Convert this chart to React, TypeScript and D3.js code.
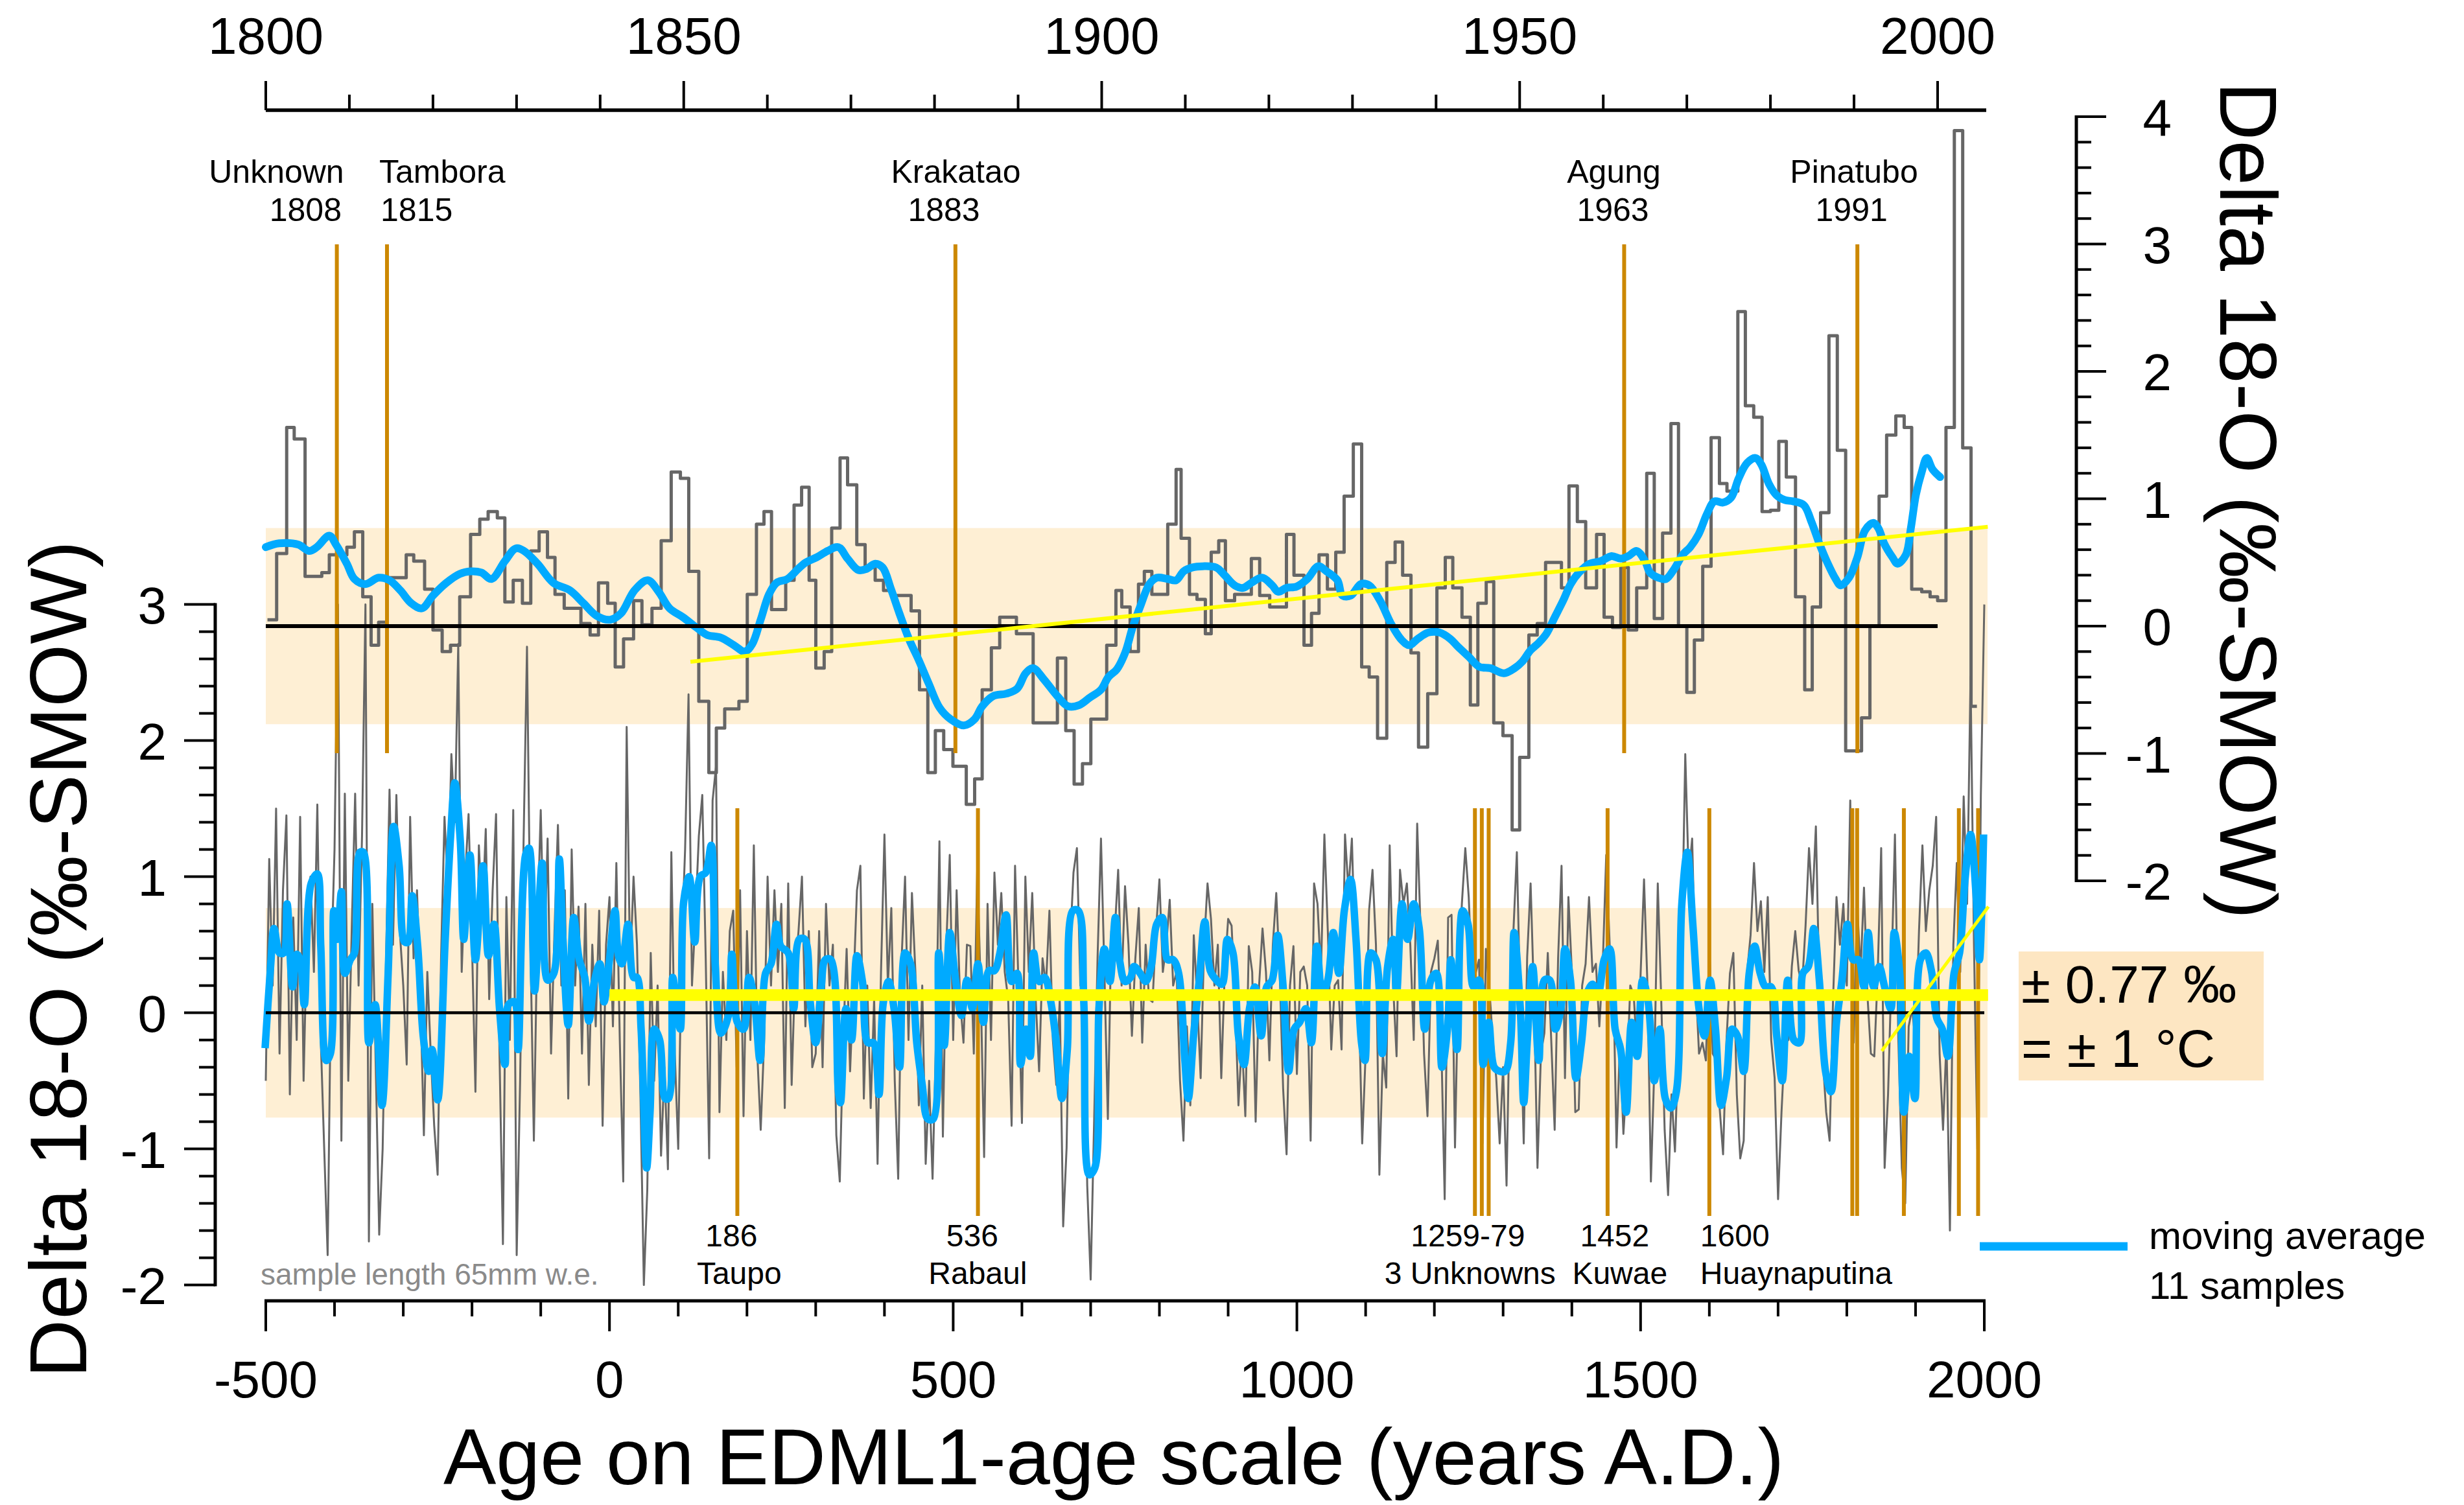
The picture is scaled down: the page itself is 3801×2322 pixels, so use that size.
import React, { useEffect } from "react";
import * as d3 from "d3";

// ---------------- DATA ----------------
// Upper panel (top axis: years A.D. 1800-2005, right axis: delta 18-O)
const upperSteps: [number, number][] = [
[1800.2,0.05],[1801.3,0.57],[1802.5,1.56],[1803.4,1.47],[1804.7,0.39],[1806.7,0.42],[1807.6,0.56],[1809.7,0.62],[1810.6,0.74],[1811.6,0.23],[1812.6,-0.15],[1813.5,0.03],[1814.5,0.38],[1816.8,0.56],[1817.7,0.51],[1819.0,0.29],[1820.0,-0.03],[1821.1,-0.2],[1822.1,-0.15],[1823.2,0.23],[1824.5,0.72],[1825.6,0.84],[1826.6,0.9],[1827.7,0.85],[1828.6,0.19],[1829.6,0.36],[1830.7,0.18],[1831.7,0.59],[1832.7,0.74],[1833.7,0.54],[1834.6,0.25],[1835.7,0.14],[1837.7,0.02],[1838.8,-0.07],[1839.8,0.34],[1840.9,0.18],[1841.8,-0.32],[1842.8,-0.1],[1844.0,0.2],[1845.0,0.01],[1846.2,0.14],[1847.3,0.67],[1848.5,1.21],[1849.6,1.16],[1850.6,0.43],[1851.8,-0.59],[1853.0,-1.15],[1853.9,-0.8],[1854.9,-0.65],[1856.6,-0.59],[1857.6,0.25],[1858.7,0.8],[1859.6,0.9],[1860.5,0.13],[1862.2,0.36],[1863.2,0.95],[1864.1,1.09],[1865.0,0.36],[1865.8,-0.33],[1866.8,-0.2],[1867.7,0.77],[1868.7,1.32],[1869.6,1.11],[1870.7,0.64],[1871.7,0.46],[1872.9,0.36],[1873.9,0.28],[1874.9,0.24],[1877.2,0.12],[1878.2,-0.5],[1879.2,-1.15],[1880.1,-0.82],[1881.1,-0.97],[1882.2,-1.1],[1883.8,-1.4],[1884.8,-1.2],[1885.7,-0.5],[1886.8,-0.17],[1887.8,0.07],[1889.8,-0.06],[1891.8,-0.76],[1894.7,-0.25],[1895.7,-0.82],[1896.7,-1.24],[1897.7,-1.08],[1898.7,-0.73],[1900.6,-0.15],[1901.7,0.28],[1902.4,0.15],[1903.4,-0.2],[1904.4,0.33],[1905.1,0.43],[1906.0,0.25],[1907.9,0.8],[1908.9,1.23],[1909.5,0.69],[1910.5,0.25],[1911.4,0.21],[1912.4,-0.06],[1913.1,0.58],[1914.0,0.67],[1914.8,0.2],[1915.9,0.25],[1917.9,0.53],[1918.9,0.24],[1920.1,0.15],[1922.1,0.72],[1923.0,0.4],[1924.2,-0.15],[1925.1,0.1],[1926.0,0.56],[1927.0,0.29],[1928.0,0.58],[1929.0,1.02],[1930.1,1.43],[1931.1,-0.32],[1932.0,-0.4],[1933.0,-0.88],[1934.1,0.5],[1935.1,0.66],[1936.0,0.4],[1937.0,-0.21],[1937.9,-0.95],[1939.0,-0.53],[1940.1,0.3],[1941.1,0.54],[1942.0,0.3],[1943.1,0.07],[1944.1,-0.62],[1945.0,0.18],[1946.0,0.35],[1946.9,-0.76],[1948.0,-0.86],[1949.1,-1.6],[1950.0,-1.03],[1951.1,-0.07],[1952.1,0.02],[1953.1,0.5],[1955.0,0.3],[1955.9,1.1],[1956.9,0.82],[1957.9,0.3],[1959.2,0.72],[1960.1,0.07],[1961.1,-0.01],[1962.1,0.46],[1963.0,-0.03],[1964.0,0.3],[1965.2,1.2],[1966.1,0.06],[1967.1,0.73],[1968.1,1.59],[1969.0,0.0],[1970.0,-0.52],[1970.9,-0.11],[1971.9,0.47],[1972.9,1.48],[1973.9,1.12],[1974.8,1.06],[1976.1,2.47],[1977.0,1.73],[1978.0,1.64],[1979.0,0.9],[1980.0,0.91],[1981.0,1.45],[1981.9,1.17],[1983.0,0.23],[1984.1,-0.5],[1985.0,0.15],[1986.0,0.89],[1987.0,2.28],[1988.0,1.38],[1989.0,-0.98],[1990.9,-0.72],[1991.9,0.0],[1993.0,1.02],[1993.9,1.5],[1995.0,1.65],[1996.0,1.56],[1996.9,0.29],[1998.1,0.27],[1999.1,0.23],[2000.0,0.2],[2001.0,1.56],[2002.0,3.89],[2003.0,1.4],[2004.0,-0.63],[2004.7,-0.63]
];

const upperAvg: [number, number][] = [
[1800.0,0.62],[1801.6,0.65],[1803.9,0.64],[1805.2,0.59],[1806.1,0.62],[1807.6,0.71],[1808.4,0.64],[1809.7,0.49],[1810.6,0.37],[1811.9,0.33],[1813.5,0.38],[1814.8,0.36],[1816.1,0.28],[1817.4,0.18],[1818.7,0.14],[1820.0,0.24],[1821.6,0.34],[1823.2,0.41],[1824.5,0.43],[1825.8,0.42],[1827.0,0.37],[1828.6,0.51],[1829.9,0.61],[1830.9,0.59],[1832.5,0.49],[1834.4,0.34],[1836.4,0.28],[1838.0,0.18],[1839.6,0.08],[1841.2,0.05],[1842.5,0.1],[1844.1,0.28],[1845.7,0.36],[1847.0,0.27],[1848.3,0.14],[1849.9,0.07],[1851.5,-0.01],[1852.8,-0.07],[1854.4,-0.09],[1856.0,-0.15],[1857.3,-0.2],[1858.2,-0.14],[1859.2,0.05],[1860.2,0.25],[1861.1,0.34],[1862.4,0.37],[1863.7,0.45],[1864.6,0.5],[1865.9,0.54],[1867.2,0.59],[1868.5,0.62],[1869.6,0.53],[1870.9,0.44],[1871.9,0.45],[1872.9,0.49],[1873.8,0.46],[1874.8,0.29],[1875.8,0.1],[1877.0,-0.11],[1878.0,-0.25],[1879.3,-0.45],[1880.6,-0.64],[1881.9,-0.73],[1883.5,-0.78],[1884.8,-0.73],[1885.7,-0.63],[1887.0,-0.55],[1888.6,-0.53],[1889.9,-0.49],[1890.9,-0.37],[1891.8,-0.33],[1893.1,-0.42],[1894.7,-0.55],[1896.0,-0.63],[1897.3,-0.62],[1898.6,-0.56],[1899.9,-0.5],[1900.8,-0.4],[1901.8,-0.34],[1902.8,-0.21],[1903.7,-0.01],[1904.7,0.17],[1905.7,0.33],[1906.6,0.38],[1907.9,0.37],[1908.9,0.36],[1909.8,0.43],[1910.8,0.46],[1912.1,0.47],[1913.7,0.46],[1914.7,0.4],[1915.9,0.32],[1916.9,0.3],[1917.9,0.34],[1919.2,0.38],[1920.4,0.32],[1921.1,0.27],[1922.1,0.3],[1923.3,0.31],[1924.6,0.37],[1925.9,0.47],[1926.9,0.43],[1928.2,0.36],[1928.8,0.24],[1929.8,0.24],[1931.0,0.33],[1932.0,0.32],[1933.3,0.2],[1934.6,0.02],[1935.9,-0.11],[1936.8,-0.15],[1937.8,-0.1],[1939.1,-0.05],[1940.4,-0.05],[1941.7,-0.1],[1942.6,-0.16],[1943.9,-0.24],[1945.2,-0.32],[1946.5,-0.33],[1948.1,-0.37],[1949.4,-0.33],[1950.3,-0.28],[1951.3,-0.19],[1952.3,-0.13],[1953.2,-0.06],[1954.2,0.07],[1955.2,0.2],[1956.1,0.33],[1957.1,0.42],[1958.4,0.49],[1959.7,0.51],[1961.0,0.55],[1962.1,0.53],[1963.0,0.55],[1964.0,0.59],[1965.0,0.51],[1965.6,0.42],[1966.6,0.38],[1967.5,0.37],[1968.5,0.45],[1969.5,0.56],[1970.4,0.62],[1971.4,0.72],[1972.4,0.88],[1973.3,0.98],[1974.3,0.97],[1975.3,1.01],[1976.2,1.16],[1977.2,1.28],[1978.2,1.32],[1978.9,1.27],[1979.8,1.12],[1980.7,1.03],[1981.7,0.99],[1982.7,0.98],[1984.0,0.95],[1984.9,0.82],[1985.9,0.64],[1986.8,0.5],[1987.8,0.37],[1988.4,0.32],[1989.4,0.38],[1990.4,0.54],[1991.3,0.75],[1992.3,0.81],[1992.9,0.77],[1993.6,0.65],[1994.6,0.54],[1995.2,0.49],[1996.2,0.56],[1996.8,0.77],[1997.4,1.03],[1998.1,1.21],[1998.7,1.32],[1999.4,1.23],[2000.3,1.17]
];

// Lower panel raw samples, one value every 5 years from -500 A.D.
const lowerStartYear = -500;
const lowerStepYears = 5;
const lowerRaw: number[] = [
-0.5,1.13,0.2,1.5,-0.3,0.9,1.45,-0.6,0.7,-0.2,1.44,-0.5,0.6,1.0,0.3,1.53,-0.2,-1.0,-1.78,0.3,
1.2,3.0,-0.94,1.61,-0.5,0.6,1.61,0.2,1.3,3.0,-1.68,0.8,-0.4,-1.63,-1.0,0.4,1.64,0.5,1.6,0.6,
0.2,-0.38,1.44,0.4,0.9,0.1,-0.9,0.3,-0.3,-0.83,-1.19,0.4,1.44,0.9,1.9,1.4,2.71,0.3,1.0,1.46,
0.5,-0.58,1.23,0.7,1.35,0.1,0.9,1.46,-0.3,-1.7,0.85,-0.2,1.49,-1.78,-0.5,1.25,2.69,0.5,-0.94,0.6,
1.49,0.4,1.28,-0.3,0.6,1.38,0.2,0.9,-0.63,1.2,0.2,0.78,-0.3,0.8,-0.53,0.5,-0.1,0.75,-0.83,0.5,
0.85,-0.1,1.1,-0.2,-1.24,2.1,0.3,1.0,0.5,-0.6,-2.0,-1.3,0.44,-0.5,0.2,-1.05,-0.4,-1.15,1.18,-0.3,
-1.0,0.5,1.2,2.34,0.2,0.7,1.3,1.6,0.4,-1.07,1.56,1.81,-0.73,0.3,-0.2,0.6,0.75,-0.4,0.9,-0.76,
0.6,-0.2,1.23,-0.3,-0.86,-0.2,1.0,0.2,0.9,0.3,0.8,-0.7,0.95,-0.53,0.3,0.6,1.0,-0.1,0.6,-0.4,
-0.3,0.6,-0.4,0.8,0.2,0.5,-0.9,-1.24,-0.2,0.47,-0.43,0.2,0.9,1.08,-0.63,0.2,-0.7,0.1,-1.11,0.3,
1.31,0.2,0.77,-0.5,-1.22,0.4,1.0,-0.2,0.88,0.3,-0.68,0.2,-1.11,-0.5,-1.22,-0.2,1.26,-0.91,0.5,1.16,
-0.2,0.9,0.1,-0.22,0.5,0.49,-0.3,1.05,0.2,-1.06,0.8,-0.2,1.03,0.5,0.88,0.3,0.1,-0.83,1.08,0.2,
-0.81,1.0,0.3,0.88,0.1,-0.43,0.4,0.2,0.75,-0.2,-0.53,0.1,-1.57,-0.99,0.5,1.03,1.21,0.2,0.3,-1.27,
-1.96,-0.8,0.4,1.28,0.3,-0.78,0.6,0.59,1.05,0.2,0.93,0.5,-0.17,0.4,0.77,-0.22,0.5,0.1,0.08,0.6,
0.98,0.3,0.5,0.83,0.2,0.3,-0.5,-0.94,-0.1,-0.68,0.57,0.1,-0.48,0.5,0.95,0.69,0.2,0.5,-0.48,0.3,
0.69,0.64,0.1,-0.68,-0.2,-0.76,0.49,0.3,-0.8,0.2,0.62,0.3,-0.35,0.5,0.88,0.3,-0.56,-1.04,0.2,0.49,
-0.45,0.3,0.34,0.2,-0.94,0.95,0.8,0.3,1.31,0.6,-0.27,0.2,0.24,-0.27,1.31,0.9,1.28,0.36,0.1,-0.96,
-0.3,0.75,1.05,0.5,-1.19,-0.3,-0.55,1.23,0.2,-0.32,1.05,0.8,0.95,0.5,-0.2,1.39,0.6,-0.3,-0.76,0.3,
0.4,0.53,-0.2,-1.37,0.7,0.72,-0.99,0.3,0.8,1.21,0.85,0.2,0.29,0.39,-0.96,0.47,0.18,-0.2,-0.48,-0.96,
-0.4,-1.27,0.16,0.6,1.18,0.03,-0.96,0.41,0.95,0.1,-1.14,-0.3,-0.15,0.44,-0.2,-0.86,0.4,1.08,-0.48,0.85,
0.3,-0.73,-0.71,0.2,0.36,0.85,0.3,0.36,-0.1,0.36,1.16,0.5,0.34,-0.99,-0.2,-0.89,-0.48,0.2,0.13,-0.3,
0.28,0.98,0.2,-1.24,-0.4,0.95,0.1,-0.86,-1.34,-0.6,-1.02,-0.22,0.5,1.9,1.0,1.28,0.24,-0.3,-0.22,-0.35,
0.49,-0.3,-0.35,-0.7,-1.04,-0.2,0.29,0.44,-0.6,-1.07,-0.94,0.3,0.57,1.1,0.6,0.82,0.3,0.85,-0.2,-0.48,
-1.37,-0.73,-0.22,-0.2,0.34,0.6,0.31,0.2,0.64,1.21,0.8,1.37,0.2,-0.33,-0.73,-0.94,0.1,0.85,0.5,0.8,
0.2,1.56,-0.22,0.8,0.3,0.92,0.13,-0.3,-0.32,0.3,1.21,-1.14,-0.6,0.3,1.31,-0.2,-1.14,-1.4,-0.1,0.03,
-0.22,0.6,1.23,0.6,0.9,1.08,1.44,-0.3,-0.86,-0.2,-1.6,0.5,1.1,0.3,1.59,0.8,2.47,0.5,-1.0,1.6,
3.0
];

const lowerAvg: [number, number][] = [
[-501,-0.26],[-493,0.34],[-488,0.62],[-480,0.44],[-474,0.44],[-469,0.8],[-461,0.19],[-455,0.43],[-450,0.39],[-444,0.06],[-434,0.95],[-425,1.02],[-420,0.49],[-412,-0.35],[-406,-0.3],[-401,0.75],[-396,0.54],[-390,0.89],[-385,0.29],[-377,0.39],[-371,0.44],[-363,1.18],[-358,1.18],[-350,-0.22],[-341,0.06],[-331,-0.68],[-322,0.29],[-314,1.37],[-306,1.08],[-298,0.52],[-293,0.52],[-287,0.86],[-279,0.49],[-271,-0.17],[-263,-0.43],[-258,-0.27],[-250,-0.64],[-239,0.54],[-231,1.31],[-225,1.69],[-217,1.26],[-212,0.54],[-203,1.16],[-195,0.39],[-184,1.08],[-176,0.42],[-168,0.65],[-160,0.03],[-152,-0.38],[-147,0.06],[-138,0.08],[-133,-0.27],[-122,1.16],[-117,1.21],[-109,0.16],[-98,1.1],[-90,0.24],[-81,0.29],[-73,1.13],[-68,0.57],[-60,-0.09],[-52,0.7],[-44,0.39],[-36,0.26],[-30,-0.06],[-22,0.23],[-14,0.36],[-8,0.08],[0,0.39],[8,0.75],[13,0.42],[18,0.36],[27,0.65],[35,0.26],[40,0.26],[46,-0.12],[54,-1.14],[59,-0.73],[65,-0.12],[73,-0.2],[81,-0.63],[86,-0.63],[92,0.26],[97,0.08],[103,-0.12],[108,0.82],[116,1.0],[124,0.52],[132,1.0],[140,1.03],[148,1.23],[154,0.34],[162,-0.15],[173,-0.02],[178,0.43],[186,-0.07],[195,-0.12],[203,0.26],[211,0.08],[219,-0.35],[227,0.29],[235,0.36],[243,0.65],[249,0.49],[260,0.44],[268,0.03],[276,0.54],[284,0.54],[292,0.08],[300,-0.22],[308,0.19],[314,0.39],[322,0.39],[333,-0.58],
[336,-0.66],[344,0.03],[352,-0.2],[360,0.42],[368,0.23],[376,-0.22],[384,-0.22],[392,-0.6],[398,0.06],[406,0.23],[414,0.03],[422,-0.4],[430,0.44],[438,0.36],[447,-0.22],[455,-0.53],[463,-0.78],[471,-0.78],[479,0.44],[487,-0.24],[495,0.59],[503,0.26],[512,-0.02],[520,0.24],[528,0.03],[536,0.36],[544,-0.07],[552,0.31],[560,0.31],[568,0.44],[577,0.72],[585,0.23],[593,0.29],[598,-0.38],[606,-0.12],[612,-0.32],[617,0.44],[625,0.23],[633,0.26],[642,0.08],[650,-0.22],[658,-0.63],[666,-0.27],[674,0.75],[682,0.75],[690,0.08],[698,-1.19],[706,-1.14],[712,0.03],[720,0.47],[728,0.23],[736,0.7],[742,0.39],[750,0.23],[758,0.26],[763,0.34],[772,0.29],[780,0.23],[788,0.34],[796,0.65],[804,0.7],[812,0.39],[820,0.39],[828,0.29],[837,-0.35],[842,-0.63],[850,-0.15],[858,0.24],[866,0.67],[874,0.31],[883,0.24],[891,0.21],[899,0.54],[907,0.44],[915,-0.17],[923,-0.38],[931,0.03],[939,0.19],[948,-0.17],[956,0.19],[964,0.24],[972,0.57],[980,0.19],[988,-0.43],[996,-0.12],[1004,-0.07],[1013,0.03],[1021,-0.22],[1029,0.49],[1037,0.14],[1045,0.24],[1053,0.59],[1061,0.29],[1069,0.75],[1078,0.98],[1086,0.54],[1094,-0.22],[1099,-0.35],[1107,0.44],[1115,0.39],[1124,-0.3],[1132,0.34],[1140,0.54],[1145,0.14],[1153,0.8],[1161,0.54],[1170,0.8],
[1178,0.62],[1186,-0.12],[1195,0.24],[1203,0.29],[1211,-0.4],[1219,-0.12],[1224,0.39],[1233,-0.27],[1241,0.75],[1249,0.65],[1257,0.19],[1265,0.24],[1271,-0.38],[1279,-0.07],[1287,-0.4],[1295,-0.43],[1303,-0.43],[1311,-0.22],[1316,0.59],[1325,0.03],[1330,-0.66],[1335,-0.22],[1343,0.34],[1352,-0.35],[1360,0.24],[1368,0.24],[1376,-0.12],[1384,0.03],[1390,0.47],[1398,0.24],[1406,-0.48],[1414,-0.22],[1422,0.14],[1430,0.21],[1438,0.14],[1447,0.39],[1455,0.47],[1463,-0.12],[1471,-0.27],[1479,-0.73],[1487,-0.07],[1495,-0.32],[1503,0.24],[1511,0.08],[1520,-0.5],[1528,-0.12],[1536,-0.63],[1544,-0.7],[1552,-0.58],[1560,0.8],[1568,1.18],[1576,0.65],[1585,0.03],[1593,-0.17],[1601,0.24],[1609,-0.12],[1617,-0.68],[1625,-0.48],[1633,-0.12],[1641,-0.17],[1650,-0.43],[1658,0.29],[1666,0.49],[1674,0.29],[1682,0.19],[1690,0.19],[1698,-0.17],[1706,-0.5],[1714,0.24],[1723,-0.2],[1731,-0.22],[1736,0.29],[1744,0.34],[1752,0.62],[1760,0.24],[1769,-0.43],[1777,-0.58],[1785,-0.07],[1793,0.24],[1801,0.65],[1809,0.39],[1817,0.39],[1825,0.19],[1831,0.59],[1839,0.19],[1847,0.34],[1855,0.19],[1864,0.03],[1869,0.59],[1877,0.29],[1883,-0.73],[1891,-0.32],[1899,-0.63],[1907,0.39],[1915,0.44],[1923,0.31],[1931,-0.04],[1939,-0.12],[1947,-0.32],[1956,0.29],[1964,0.44],[1972,0.98],[1980,1.31],[1988,0.87],[1993,0.39],[1999,1.31]
];

// Reference lines / bands
const band = 0.77;                       // +/- 0.77 permil = +/- 1 degC
const lowerMeanLevel = 0.13;             // thick yellow level from 0 A.D.
const lowerMeanSpan: [number, number] = [0, 2005.5];
const trendLine: [number, number][] = [[1850.8, -0.28], [2006, 0.78]];
const upperZeroSpan: [number, number] = [1800, 2000];
const lowerZeroSpan: [number, number] = [-500, 2000];

// Volcanic events
const upperEventLines = [1808.5, 1814.5, 1882.5, 1962.5, 1990.4];
const upperEventLabels = [
  { text: "Unknown", at: 1809.36, anchor: "end", row: 0 },
  { text: "1808", at: 1809.07, anchor: "end", row: 1 },
  { text: "Tambora", at: 1813.57, anchor: "start", row: 0 },
  { text: "1815", at: 1813.73, anchor: "start", row: 1 },
  { text: "Krakatao", at: 1882.55, anchor: "middle", row: 0 },
  { text: "1883", at: 1881.12, anchor: "middle", row: 1 },
  { text: "Agung", at: 1961.27, anchor: "middle", row: 0 },
  { text: "1963", at: 1961.15, anchor: "middle", row: 1 },
  { text: "Pinatubo", at: 1990.0, anchor: "middle", row: 0 },
  { text: "1991", at: 1989.7, anchor: "middle", row: 1 },
];
const lowerEventLines = [186, 536, 1259, 1269, 1279, 1452, 1600, 1808, 1815, 1883, 1963, 1991];
const lowerEventLabels = [
  { text: "186", at: 177.4, anchor: "middle", row: 0 },
  { text: "Taupo", at: 188.7, anchor: "middle", row: 1 },
  { text: "536", at: 527.8, anchor: "middle", row: 0 },
  { text: "Rabaul", at: 535.8, anchor: "middle", row: 1 },
  { text: "1259-79", at: 1248.7, anchor: "middle", row: 0 },
  { text: "3 Unknowns", at: 1251.9, anchor: "middle", row: 1 },
  { text: "1452", at: 1462.3, anchor: "middle", row: 0 },
  { text: "Kuwae", at: 1469.8, anchor: "middle", row: 1 },
  { text: "1600", at: 1586.8, anchor: "start", row: 0 },
  { text: "Huaynaputina", at: 1586.8, anchor: "start", row: 1 },
];

const topTickLabels = [1800, 1850, 1900, 1950, 2000];
const bottomTickLabels = [-500, 0, 500, 1000, 1500, 2000];
const leftTickLabels = [3, 2, 1, 0, -1, -2];
const rightTickLabels = [4, 3, 2, 1, 0, -1, -2];

const axisTitle = "Delta 18-O (\u2030-SMOW)";
const xTitle = "Age on EDML1-age scale (years A.D.)";
const noteText = "sample length 65mm w.e.";
const bandText = ["\u00B1 0.77 \u2030", "= \u00B1 1 \u00B0C"];
const legendText = ["moving average", "11 samples"];

// ---------------- STYLE ----------------
const FONT = "'Liberation Sans', Arial, Helvetica, sans-serif";
const C_BAND = "#FEEFD4";
const C_BOX = "#FDE6C2";
const C_BLUE = "#00AAFF";
const C_ORANGE = "#CC8800";
const C_GRAY = "#666666";
const C_YELLOW = "#FFFF00";

export default function App() {
  useEffect(() => {
    document.body.style.margin = "0";
    document.body.style.overflow = "hidden";
  }, []);

  const W = 3801, H = 2322;
  const xTop = d3.scaleLinear().domain([1800, 2000]).range([410, 2989]);
  const xBot = d3.scaleLinear().domain([-500, 2000]).range([410, 3061]);
  const yLeft = d3.scaleLinear().domain([-2, 3]).range([1982.6, 932.6]);
  const yRight = d3.scaleLinear().domain([-2, 4]).range([1359, 180]);

  const bandX0 = 410, bandX1 = 3066;

  const stepLine = d3.line<[number, number]>().x(d => xTop(d[0])).y(d => yRight(d[1])).curve(d3.curveStepAfter);
  const upAvgLine = d3.line<[number, number]>().x(d => xTop(d[0])).y(d => yRight(d[1])).curve(d3.curveCatmullRom.alpha(0.5));
  const lowRawPts: [number, number][] = lowerRaw.map((v, i) => [lowerStartYear + i * lowerStepYears, v]);
  const rawLine = d3.line<[number, number]>().x(d => xBot(d[0])).y(d => yLeft(d[1]));
  const lowAvgLine = d3.line<[number, number]>().x(d => xBot(d[0])).y(d => yLeft(d[1])).curve(d3.curveCatmullRom.alpha(0.5));
  const trendUp = d3.line<[number, number]>().x(d => xTop(d[0])).y(d => yRight(d[1]));
  const trendLow = d3.line<[number, number]>().x(d => xBot(d[0])).y(d => yLeft(d[1]));

  const topTicks = d3.range(1800, 2001, 10);
  const botTicks = d3.range(-500, 2001, 100);
  const leftTicks = d3.range(-2, 3.001, 0.2).map(v => Math.round(v * 10) / 10);
  const rightTicks = d3.range(-2, 4.001, 0.2).map(v => Math.round(v * 10) / 10);
  const isInt = (v: number) => Math.abs(v - Math.round(v)) < 1e-6;

  const upRowY = [282, 341];
  const lowRowY = [1923, 1981];

  return (
    <svg width={W} height={H} viewBox={`0 0 ${W} ${H}`} style={{ position: "absolute", left: 0, top: 0, background: "#fff" }} fontFamily={FONT}>
      <rect x={0} y={0} width={W} height={H} fill="#fff" />
      {/* bands */}
      <rect x={bandX0} y={yRight(band)} width={bandX1 - bandX0} height={yRight(-band) - yRight(band)} fill={C_BAND} />
      <rect x={bandX0} y={yLeft(band)} width={bandX1 - bandX0} height={yLeft(-band) - yLeft(band)} fill={C_BAND} />

      {/* lower raw */}
      <path d={rawLine(lowRawPts) || ""} fill="none" stroke={C_GRAY} strokeWidth={3} strokeLinejoin="round" />
      {/* upper steps */}
      <path d={stepLine(upperSteps) || ""} fill="none" stroke={C_GRAY} strokeWidth={5} strokeLinejoin="round" />

      {/* event lines */}
      {upperEventLines.map((y, i) => (
        <line key={"ue" + i} x1={xTop(y)} x2={xTop(y)} y1={377} y2={1162} stroke={C_ORANGE} strokeWidth={6} />
      ))}
      {lowerEventLines.map((y, i) => (
        <line key={"le" + i} x1={xBot(y)} x2={xBot(y)} y1={1247} y2={1876} stroke={C_ORANGE} strokeWidth={6} />
      ))}

      {/* moving averages */}
      <path d={lowAvgLine(lowerAvg) || ""} fill="none" stroke={C_BLUE} strokeWidth={11.5} strokeLinejoin="round" />
      <path d={upAvgLine(upperAvg) || ""} fill="none" stroke={C_BLUE} strokeWidth={12} strokeLinejoin="round" strokeLinecap="round" />

      {/* zero lines */}
      <line x1={xTop(upperZeroSpan[0])} x2={xTop(upperZeroSpan[1])} y1={yRight(0)} y2={yRight(0)} stroke="#000" strokeWidth={6} />
      <line x1={xBot(lowerZeroSpan[0])} x2={xBot(lowerZeroSpan[1])} y1={yLeft(0)} y2={yLeft(0)} stroke="#000" strokeWidth={4.5} />

      {/* yellow lines */}
      <path d={trendUp(trendLine) || ""} stroke={C_YELLOW} strokeWidth={6} fill="none" />
      <line x1={xBot(lowerMeanSpan[0])} x2={xBot(lowerMeanSpan[1])} y1={yLeft(lowerMeanLevel)} y2={yLeft(lowerMeanLevel)} stroke={C_YELLOW} strokeWidth={18} />
      <path d={trendLow(trendLine) || ""} stroke={C_YELLOW} strokeWidth={5} fill="none" />

      {/* top axis */}
      <line x1={410} x2={3064} y1={170} y2={170} stroke="#000" strokeWidth={5.5} />
      {topTicks.map(t => (
        <line key={"tt" + t} x1={xTop(t)} x2={xTop(t)} y1={170} y2={t % 50 === 0 ? 125 : 146} stroke="#000" strokeWidth={4} />
      ))}
      {topTickLabels.map(t => (
        <text key={"tl" + t} x={xTop(t)} y={83} fontSize={80} textAnchor="middle">{t}</text>
      ))}

      {/* bottom axis */}
      <line x1={408} x2={3063} y1={2007} y2={2007} stroke="#000" strokeWidth={5} />
      {botTicks.map(t => (
        <line key={"bt" + t} x1={xBot(t)} x2={xBot(t)} y1={2007} y2={t % 500 === 0 ? 2054 : 2031} stroke="#000" strokeWidth={4} />
      ))}
      {bottomTickLabels.map(t => (
        <text key={"bl" + t} x={xBot(t)} y={2156} fontSize={80} textAnchor="middle">{t}</text>
      ))}

      {/* left axis */}
      <line x1={332} x2={332} y1={yLeft(3) - 2} y2={yLeft(-2) + 2} stroke="#000" strokeWidth={5} />
      {leftTicks.map(t => (
        <line key={"lt" + t} x1={332} x2={isInt(t) ? 284 : 307} y1={yLeft(t)} y2={yLeft(t)} stroke="#000" strokeWidth={4} />
      ))}
      {leftTickLabels.map(t => (
        <text key={"ll" + t} x={257} y={yLeft(t) + 29} fontSize={80} textAnchor="end">{t}</text>
      ))}

      {/* right axis */}
      <line x1={3203} x2={3203} y1={yRight(4) - 2} y2={yRight(-2) + 2} stroke="#000" strokeWidth={5} />
      {rightTicks.map(t => (
        <line key={"rt" + t} x1={3203} x2={isInt(t) ? 3249 : 3226} y1={yRight(t)} y2={yRight(t)} stroke="#000" strokeWidth={4} />
      ))}
      {rightTickLabels.map(t => (
        <text key={"rl" + t} x={3350} y={yRight(t) + 29} fontSize={80} textAnchor="end">{t}</text>
      ))}

      {/* axis titles */}
      <text transform="translate(133,1480) rotate(-90)" fontSize={125} textAnchor="middle">{axisTitle}</text>
      <text transform="translate(3425,772) rotate(90)" fontSize={125} textAnchor="middle">{axisTitle}</text>
      <text x={1718} y={2290} fontSize={122} textAnchor="middle">{xTitle}</text>

      {/* event labels */}
      {upperEventLabels.map((l, i) => (
        <text key={"ul" + i} x={xTop(l.at)} y={upRowY[l.row]} fontSize={50} textAnchor={l.anchor as any}>{l.text}</text>
      ))}
      {lowerEventLabels.map((l, i) => (
        <text key={"ll2" + i} x={xBot(l.at)} y={lowRowY[l.row]} fontSize={48} textAnchor={l.anchor as any}>{l.text}</text>
      ))}

      <text x={402} y={1982} fontSize={46} fill="#8a8a8a">{noteText}</text>

      {/* band annotation */}
      <rect x={3114} y={1468} width={378} height={199} fill={C_BOX} />
      <text x={3118} y={1547} fontSize={82}>{bandText[0]}</text>
      <text x={3118} y={1646} fontSize={82}>{bandText[1]}</text>

      {/* legend */}
      <line x1={3054} x2={3282} y1={1923} y2={1923} stroke={C_BLUE} strokeWidth={13} />
      <text x={3315} y={1927} fontSize={60}>{legendText[0]}</text>
      <text x={3315} y={2004} fontSize={60}>{legendText[1]}</text>
    </svg>
  );
}
